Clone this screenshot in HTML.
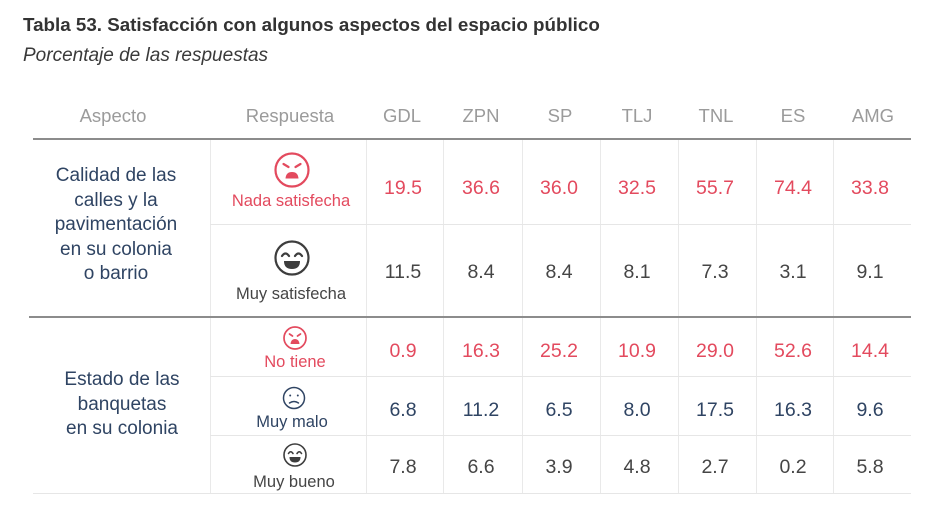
<!DOCTYPE html>
<html>
<head>
<meta charset="utf-8">
<style>
  html, body { margin:0; padding:0; background:#fff; }
  #c { position:relative; width:932px; height:518px; overflow:hidden; background:#fff; font-family:"Liberation Sans", Arial, sans-serif; }
  .a { position:absolute; white-space:nowrap; }
  .title { left:23px; top:12px; height:26px; line-height:26px; font-size:18.8px; font-weight:bold; color:#333; }
  .sub { left:23px; top:43px; height:26px; line-height:26px; font-size:19px; font-style:italic; color:#3a3a3a; letter-spacing:0px; }
  .h { top:102px; height:28px; line-height:28px; font-size:18.5px; color:#9b9b9b; width:160px; margin-left:-80px; text-align:center; }
  .n { height:30px; line-height:30px; font-size:19.5px; width:80px; margin-left:-40px; text-align:center; }
  .red { color:#e34a5e; }
  .gry { color:#454545; }
  .nav { color:#2f4463; }
  .lbl { height:24px; line-height:24px; font-size:16.5px; width:150px; margin-left:-75px; text-align:center; }
  .asp { font-size:19px; line-height:24.5px; color:#2f4463; width:200px; margin-left:-100px; text-align:center; white-space:normal; }
  .hl { position:absolute; height:1px; background:#e6e6e6; }
  .vl { position:absolute; width:1px; background:#e9e9e9; top:139px; height:354px; }
  .tk { position:absolute; height:2px; background:#8c8c8c; }
</style>
</head>
<body>
<div id="c">
  <div class="a title">Tabla 53. Satisfacción con algunos aspectos del espacio público</div>
  <div class="a sub">Porcentaje de las respuestas</div>

  <!-- headers -->
  <div class="a h" style="left:113px">Aspecto</div>
  <div class="a h" style="left:290px">Respuesta</div>
  <div class="a h" style="left:402px">GDL</div>
  <div class="a h" style="left:481px">ZPN</div>
  <div class="a h" style="left:560px">SP</div>
  <div class="a h" style="left:637px">TLJ</div>
  <div class="a h" style="left:716px">TNL</div>
  <div class="a h" style="left:793px">ES</div>
  <div class="a h" style="left:873px">AMG</div>

  <!-- vertical light lines -->
  <div class="vl" style="left:210px"></div>
  <div class="vl" style="left:366px"></div>
  <div class="vl" style="left:443px"></div>
  <div class="vl" style="left:522px"></div>
  <div class="vl" style="left:600px"></div>
  <div class="vl" style="left:678px"></div>
  <div class="vl" style="left:756px"></div>
  <div class="vl" style="left:833px"></div>

  <!-- horizontal light lines -->
  <div class="hl" style="left:210px; width:701px; top:224px"></div>
  <div class="hl" style="left:210px; width:701px; top:376px"></div>
  <div class="hl" style="left:210px; width:701px; top:435px"></div>
  <div class="hl" style="left:33px; width:878px; top:493px"></div>

  <!-- thick lines -->
  <div class="tk" style="left:33px; width:878px; top:138px"></div>
  <div class="tk" style="left:29px; width:882px; top:316px"></div>

  <!-- aspect texts -->
  <div class="a asp" style="left:116px; top:164px">Calidad de las<br>calles y la<br>pavimentación<br>en su colonia<br>o barrio</div>
  <div class="a asp" style="left:122px; top:368px">Estado de las<br>banquetas<br>en su colonia</div>

  <!-- icons -->
  <svg class="a" style="left:0;top:0" width="932" height="518" viewBox="0 0 932 518">
    <!-- angry big -->
    <g transform="translate(292,170)" fill="none" stroke="#e34a5e" stroke-width="2.2">
      <circle r="16.5"/>
      <line x1="-8.5" y1="-6" x2="-3.5" y2="-3" stroke-linecap="round"/>
      <line x1="8.5" y1="-6" x2="3.5" y2="-3" stroke-linecap="round"/>
      <path d="M-6.5,8.5 L6.5,8.5 Q6,2 0,2 Q-6,2 -6.5,8.5 Z" fill="#e34a5e" stroke="none"/>
    </g>
    <!-- happy big -->
    <g transform="translate(292,258)" fill="none" stroke="#3d3d3d" stroke-width="2.2">
      <circle r="16.5"/>
      <path d="M-10,-2 Q-6.5,-7 -3,-2" stroke-linecap="round"/>
      <path d="M3,-2 Q6.5,-7 10,-2" stroke-linecap="round"/>
      <path d="M-8,3 L8,3 Q8,11 0,11 Q-8,11 -8,3 Z" fill="#3d3d3d" stroke="none"/>
    </g>
    <!-- angry small -->
    <g transform="translate(295,338)" fill="none" stroke="#e34a5e" stroke-width="1.7">
      <circle r="11"/>
      <line x1="-5.5" y1="-4" x2="-2.5" y2="-2" stroke-linecap="round"/>
      <line x1="5.5" y1="-4" x2="2.5" y2="-2" stroke-linecap="round"/>
      <path d="M-4.5,6 L4.5,6 Q4,1 0,1 Q-4,1 -4.5,6 Z" fill="#e34a5e" stroke="none"/>
    </g>
    <!-- neutral/sad small -->
    <g transform="translate(294,398)" fill="none" stroke="#2f4463" stroke-width="1.5">
      <circle r="10.5"/>
      <circle cx="-3.8" cy="-2.5" r="1" fill="#2f4463" stroke="none"/>
      <circle cx="3.8" cy="-2.5" r="1" fill="#2f4463" stroke="none"/>
      <path d="M-4.5,5 Q0,2 4.5,5" stroke-linecap="round"/>
    </g>
    <!-- happy small -->
    <g transform="translate(295,455)" fill="none" stroke="#3d3d3d" stroke-width="1.6">
      <circle r="11"/>
      <path d="M-6.5,-1.5 Q-4.3,-5 -2,-1.5" stroke-linecap="round"/>
      <path d="M2,-1.5 Q4.3,-5 6.5,-1.5" stroke-linecap="round"/>
      <path d="M-5.5,2 L5.5,2 Q5.5,7.5 0,7.5 Q-5.5,7.5 -5.5,2 Z" fill="#3d3d3d" stroke="none"/>
    </g>
  </svg>

  <!-- labels -->
  <div class="a lbl red" style="left:291px; top:189px">Nada satisfecha</div>
  <div class="a lbl gry" style="left:291px; top:282px">Muy satisfecha</div>
  <div class="a lbl red" style="left:295px; top:350px">No tiene</div>
  <div class="a lbl nav" style="left:292px; top:410px">Muy malo</div>
  <div class="a lbl gry" style="left:294px; top:470px">Muy bueno</div>

  <!-- row 1 -->
  <div class="a n red" style="left:403px; top:173px">19.5</div>
  <div class="a n red" style="left:481px; top:173px">36.6</div>
  <div class="a n red" style="left:559px; top:173px">36.0</div>
  <div class="a n red" style="left:637px; top:173px">32.5</div>
  <div class="a n red" style="left:715px; top:173px">55.7</div>
  <div class="a n red" style="left:793px; top:173px">74.4</div>
  <div class="a n red" style="left:870px; top:173px">33.8</div>
  <!-- row 2 -->
  <div class="a n gry" style="left:403px; top:257px">11.5</div>
  <div class="a n gry" style="left:481px; top:257px">8.4</div>
  <div class="a n gry" style="left:559px; top:257px">8.4</div>
  <div class="a n gry" style="left:637px; top:257px">8.1</div>
  <div class="a n gry" style="left:715px; top:257px">7.3</div>
  <div class="a n gry" style="left:793px; top:257px">3.1</div>
  <div class="a n gry" style="left:870px; top:257px">9.1</div>
  <!-- row 3 -->
  <div class="a n red" style="left:403px; top:336px">0.9</div>
  <div class="a n red" style="left:481px; top:336px">16.3</div>
  <div class="a n red" style="left:559px; top:336px">25.2</div>
  <div class="a n red" style="left:637px; top:336px">10.9</div>
  <div class="a n red" style="left:715px; top:336px">29.0</div>
  <div class="a n red" style="left:793px; top:336px">52.6</div>
  <div class="a n red" style="left:870px; top:336px">14.4</div>
  <!-- row 4 -->
  <div class="a n nav" style="left:403px; top:395px">6.8</div>
  <div class="a n nav" style="left:481px; top:395px">11.2</div>
  <div class="a n nav" style="left:559px; top:395px">6.5</div>
  <div class="a n nav" style="left:637px; top:395px">8.0</div>
  <div class="a n nav" style="left:715px; top:395px">17.5</div>
  <div class="a n nav" style="left:793px; top:395px">16.3</div>
  <div class="a n nav" style="left:870px; top:395px">9.6</div>
  <!-- row 5 -->
  <div class="a n gry" style="left:403px; top:452px">7.8</div>
  <div class="a n gry" style="left:481px; top:452px">6.6</div>
  <div class="a n gry" style="left:559px; top:452px">3.9</div>
  <div class="a n gry" style="left:637px; top:452px">4.8</div>
  <div class="a n gry" style="left:715px; top:452px">2.7</div>
  <div class="a n gry" style="left:793px; top:452px">0.2</div>
  <div class="a n gry" style="left:870px; top:452px">5.8</div>
</div>
</body>
</html>
